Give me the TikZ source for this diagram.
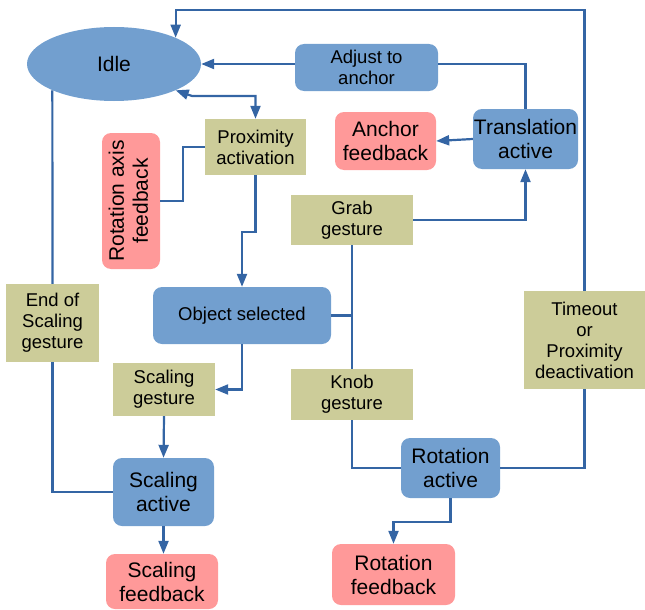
\documentclass[tikz,border=0pt]{standalone}
\usepackage{fontspec}
\setmainfont{Liberation Sans}
\usetikzlibrary{shapes.geometric,arrows.meta}
\definecolor{stblue}{HTML}{729FCF}
\definecolor{stpink}{HTML}{FF9999}
\definecolor{stolive}{HTML}{CCCC99}
\definecolor{lnblue}{HTML}{3465A4}
\tikzset{
  small/.style={font=\fontsize{18.5}{21}\selectfont},
  large/.style={font=\fontsize{21}{24}\selectfont},
  base/.style={inner sep=0pt, align=center, text=black},
  bluebox/.style={base, fill=stblue, rounded corners=9pt},
  pinkbox/.style={base, fill=stpink, rounded corners=9pt, large},
  olivebox/.style={base, fill=stolive, small},
  ln/.style={draw=lnblue, line width=2.2pt},
  arr/.style={ln, -{Triangle[length=13pt,width=10pt]}},
  arrboth/.style={ln, {Triangle[length=13pt,width=10pt]}-{Triangle[length=13pt,width=10pt]}},
}
\begin{document}
\begin{tikzpicture}[x=1pt,y=-1pt]
\useasboundingbox (0,0) rectangle (645,610);
% nodes
\node[base, fill=stblue, ellipse, minimum width=174pt, minimum height=74pt, large] (idle) at (114,64) {Idle};
\node[bluebox, small, minimum width=143pt, minimum height=47pt] (adjust) at (366.5,67.5) {Adjust to\\anchor};
\node[bluebox, large, minimum width=105pt, minimum height=60pt] (trans) at (525.5,139) {Translation\\active};
\node[pinkbox, minimum width=101pt, minimum height=58pt] (anchorfb) at (385.5,141) {Anchor\\feedback};
\node[olivebox, minimum width=101pt, minimum height=56pt] (prox) at (255.5,147) {Proximity\\activation};
\node[pinkbox, minimum width=58pt, minimum height=136pt] (rotaxis) at (131,201) {\rotatebox{90}{\begin{tabular}{@{}c@{}}Rotation axis\\feedback\end{tabular}}};
\node[bluebox, small, minimum width=178pt, minimum height=57pt] (objsel) at (242,315.5) {Object selected};
\node[olivebox, minimum width=122pt, minimum height=50pt] (grab) at (352,220) {Grab\\gesture};
\node[olivebox, minimum width=122pt, minimum height=51pt] (knob) at (352,394.5) {Knob\\gesture};
\node[olivebox, minimum width=121pt, minimum height=98pt] (timeout) at (584.5,340) {Timeout\\or\\Proximity\\deactivation};
\node[bluebox, large, minimum width=99pt, minimum height=60pt] (rotact) at (450.5,468) {Rotation\\active};
\node[pinkbox, minimum width=123pt, minimum height=61pt] (rotfb) at (393.5,574.5) {Rotation\\feedback};
\node[olivebox, minimum width=102pt, minimum height=53pt] (scalg) at (164,389.5) {Scaling\\gesture};
\node[bluebox, large, minimum width=101pt, minimum height=68pt] (scalact) at (163.5,492) {Scaling\\active};
\node[pinkbox, minimum width=112pt, minimum height=55pt] (scalfb) at (162,581.5) {Scaling\\feedback};
\node[olivebox, minimum width=93pt, minimum height=78pt] (endscal) at (52.5,323) {End of\\Scaling\\gesture};
% helper coordinates
\coordinate (topy) at (0,10);
\coordinate (pa) at (192,96);
\coordinate (rc) at (183,201);
% connectors
\draw[arr] (timeout.north) -- (timeout.north |- topy) -| (idle.north east);
\draw[arr] (adjust.west |- idle.east) -- (idle.east);
\draw[ln] (adjust.east |- idle.east) -| (trans.north);
\draw[arr] (trans.west) -- (anchorfb.east);
\draw[arrboth] (idle.south east) -- (pa) -| (prox.north);
\draw[ln] (prox.west) -| (rc) -- (rotaxis.east);
\draw[arr] (prox.south) -- ++(0,57) -| (objsel.north);
\draw[ln] (objsel.east) -- (grab.south |- objsel.east);
\draw[ln] (grab.south) -- (knob.north);
\draw[arr] (grab.east) -| (trans.south);
\draw[ln] (knob.south) |- (rotact.west);
\draw[ln] (rotact.east) -| (timeout.south);
\draw[arr] (rotact.south) -- ++(0,24) -| (rotfb.north);
\draw[arr] (objsel.south) |- (scalg.east);
\draw[arr] (scalg.south) -- (scalact.north);
\draw[arr] (scalact.south) -- (scalact.south |- scalfb.north);
\draw[ln] (scalact.west) -| (endscal.south);
\draw[ln] (endscal.north) -- (idle.south west);
\end{tikzpicture}
\end{document}
